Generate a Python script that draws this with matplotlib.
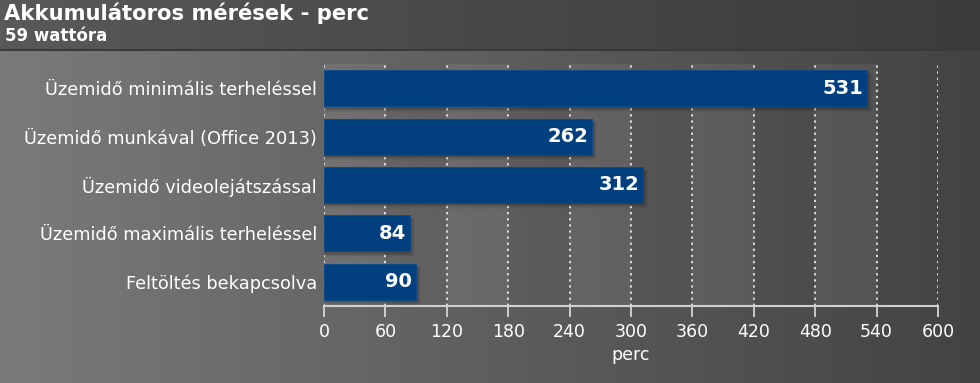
import numpy as np
import matplotlib
matplotlib.use('Agg')
import matplotlib.pyplot as plt
from matplotlib.colors import LinearSegmentedColormap

# data
categories = ['Üzemidő minimális terheléssel',
              'Üzemidő munkával (Office 2013)',
              'Üzemidő videolejátszással',
              'Üzemidő maximális terheléssel',
              'Feltöltés bekapcsolva']
values = [531, 262, 312, 84, 90]
xticks = [0, 60, 120, 180, 240, 300, 360, 420, 480, 540, 600]
title = 'Akkumulátoros mérések - perc'
subtitle = '59 wattóra'
xlabel = 'perc'

bar_col = '#013f7e'
W, H = 980, 383

fig = plt.figure(figsize=(W / 100, H / 100), dpi=100)

# background gradient
bg = fig.add_axes([0, 0, 1, 1], zorder=-10)
bg.set_axis_off()
gx = np.linspace(0, 1, 256)
grad = np.tile(gx, (2, 1))
cm_bg = LinearSegmentedColormap.from_list('bg', ['#7a7a7a', '#5e5e5e', '#434343'])
bg.imshow(grad, cmap=cm_bg, aspect='auto', extent=[0, 1, 0, 1])
# title bar
cm_tb = LinearSegmentedColormap.from_list('tb', ['#595959', '#484848', '#3c3c3c'])
tb_h = 50 / H
bg.imshow(grad, cmap=cm_tb, aspect='auto', extent=[0, 1, 1 - tb_h, 1])
bg.plot([0, 1], [1 - tb_h, 1 - tb_h], color='#3a3a3a', lw=1.5)
bg.set_xlim(0, 1)
bg.set_ylim(0, 1)

fig.text(4 / W, 1 - 2 / H, title, color='white', fontsize=15.2, fontweight='bold',
         va='top', ha='left')
fig.text(5 / W, 1 - 27 / H, subtitle, color='white', fontsize=12, fontweight='bold',
         va='top', ha='left')

ax = fig.add_axes([324 / W, 77 / H, 614 / W, 242 / H])
ax.set_facecolor('none')
ypos = np.arange(len(categories))

# alternating bands
for i in range(0, len(xticks) - 1, 2):
    ax.axvspan(xticks[i], xticks[i + 1], color='white', alpha=0.07, lw=0, zorder=0)

# soft shadows
for k, a in enumerate([0.10, 0.08, 0.06, 0.04]):
    d = 1.5 + k * 1.2
    ax.barh(ypos + 0.05 + k * 0.012, np.array(values) + d, height=0.74 + k * 0.02,
            left=0, color='black', alpha=a, lw=0, zorder=1)

ax.barh(ypos, values, height=0.74, color=bar_col, edgecolor='#0b4a8a', lw=0.6, zorder=3)

for y, v in zip(ypos, values):
    ax.annotate(str(v), (v, y), xytext=(-3, 0), textcoords='offset points',
                ha='right', va='center', color='white', fontsize=14,
                fontweight='bold', zorder=4)

ax.set_xlim(0, 600)
ax.set_ylim(len(categories) - 0.5, -0.5)
ax.set_xticks(xticks)
ax.set_yticks(ypos)
ax.set_yticklabels(categories)
ax.grid(axis='x', color='white', linestyle=(0, (1.5, 2.5)), lw=1.1, zorder=0)
ax.set_axisbelow(True)
for s in ['top', 'right', 'left']:
    ax.spines[s].set_visible(False)
ax.spines['bottom'].set_color('#d0d0d0')
ax.spines['bottom'].set_linewidth(1.5)
ax.tick_params(axis='x', colors='#e0e0e0', length=8, width=1.2, labelsize=12.5,
               labelcolor='white', pad=4)
ax.tick_params(axis='y', length=0, labelsize=12.8, labelcolor='white', pad=5)
ax.set_xlabel(xlabel, color='white', fontsize=12.5, labelpad=4)

fig.savefig('out.png', dpi=100)
